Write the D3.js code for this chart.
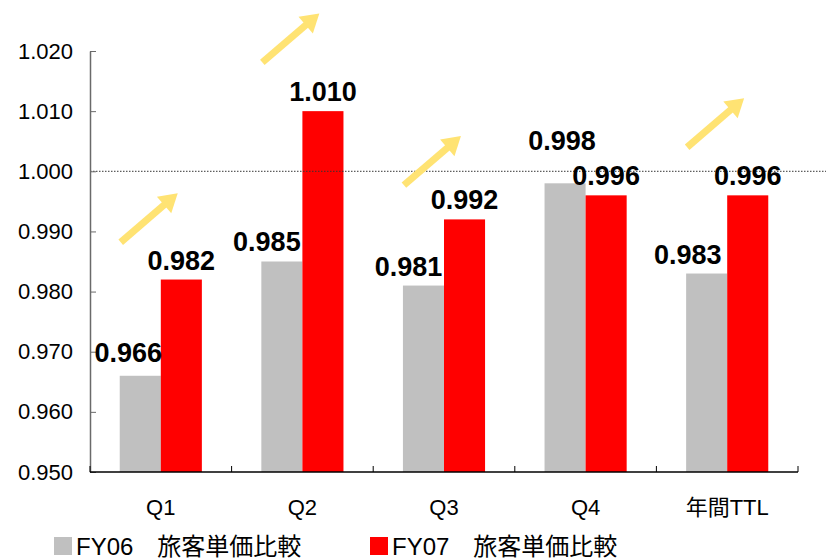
<!DOCTYPE html>
<html>
<head>
<meta charset="utf-8">
<script src="https://cdn.jsdelivr.net/npm/d3@7"></script>
<style>
  html, body { margin: 0; padding: 0; background: #fff; }
  svg { display: block; font-family: "Liberation Sans", Arial, sans-serif; }
</style>
</head>
<body>
<svg id="chart" width="830" height="560"></svg>
<script>
// Quarterly passenger unit-price ratios, FY06 vs FY07
const categories = ["Q1", "Q2", "Q3", "Q4", "年間TTL"];
const fy06 = [0.966, 0.985, 0.981, 0.998, 0.983];
const fy07 = [0.982, 1.010, 0.992, 0.996, 0.996];
const seriesNames = ["FY06\u3000旅客単価比較", "FY07\u3000旅客単価比較"];
const yTicks = [0.950, 0.960, 0.970, 0.980, 0.990, 1.000, 1.010, 1.020];
const baseline = 1.000;
// Upward trend arrows: category and the value level at the arrow tail
const arrowCats = ["Q1", "Q2", "Q3", "年間TTL"];
const arrowTail = [0.9882, 1.0181, 0.9977, 1.0040];

const colors = ["#c0c0c0", "#ff0000"];
const arrowColor = "#ffe373";

const svg = d3.select("#chart");
const plotLeft = 90, plotRight = 798, plotTop = 51, plotBottom = 472;

const y = d3.scaleLinear().domain([0.950, 1.020]).range([plotBottom, plotTop]);
const x = d3.scaleBand().domain(categories).range([plotLeft, plotRight])
  .paddingInner(0.42).paddingOuter(0.21);
const xs = d3.scaleBand().domain([0, 1]).range([0, x.bandwidth()]);

// Bars
const series = [fy06, fy07];
series.forEach((vals, si) => {
  svg.append("g").selectAll("rect")
    .data(vals)
    .join("rect")
    .attr("x", (d, i) => x(categories[i]) + xs(si))
    .attr("y", d => y(d))
    .attr("width", xs.bandwidth())
    .attr("height", d => plotBottom - y(d))
    .attr("fill", colors[si]);
});

// Reference line at 1.000
svg.append("line")
  .attr("x1", plotLeft).attr("x2", 826)
  .attr("y1", y(baseline)).attr("y2", y(baseline))
  .attr("stroke", "#333").attr("stroke-width", 1)
  .attr("stroke-dasharray", "1.5,1.5");

// Y axis (ticks point inward)
const yAxis = d3.axisLeft(y).tickValues(yTicks).tickFormat(d3.format(".3f"))
  .tickSizeInner(-6).tickSizeOuter(0).tickPadding(17);
const gy = svg.append("g").attr("transform", `translate(${plotLeft},0)`).call(yAxis);
gy.select(".domain").attr("stroke", "#6a6a6a").attr("stroke-width", 1.5);
gy.selectAll(".tick line").attr("stroke", "#6a6a6a");
gy.selectAll("text").attr("font-size", 22).attr("fill", "#000")
  .attr("font-family", "'Liberation Sans', Arial, sans-serif");

// X axis: separator ticks between categories
svg.append("line").attr("x1", plotLeft).attr("x2", plotRight)
  .attr("y1", plotBottom).attr("y2", plotBottom).attr("stroke", "#000").attr("stroke-width", 1.5);
const seps = categories.map(c => x(c) - x.step() * x.paddingOuter()).concat([plotRight]);
svg.append("g").selectAll("line").data(seps).join("line")
  .attr("x1", d => d).attr("x2", d => d)
  .attr("y1", plotBottom).attr("y2", plotBottom - 6)
  .attr("stroke", "#000");
svg.append("g").selectAll("text").data(categories).join("text")
  .attr("x", d => x(d) + x.bandwidth() / 2)
  .attr("y", 515)
  .attr("text-anchor", "middle")
  .attr("font-size", 22)
  .attr("font-family", "'Liberation Sans', 'Noto Sans CJK JP', sans-serif")
  .text(d => d);

// Value labels
const fmt = d3.format(".3f");
const labelShift06 = [-12, -15, -15, -3, -19];  // horizontal nudge for FY06 labels
const labelLift06 = [14, 11, 10, 33, 10];       // distance above bar top
series.forEach((vals, si) => {
  svg.append("g").selectAll("text")
    .data(vals)
    .join("text")
    .attr("x", (d, i) => x(categories[i]) + xs(si) + xs.bandwidth() / 2 + (si === 0 ? labelShift06[i] : 0))
    .attr("y", (d, i) => y(d) - (si === 0 ? labelLift06[i] : 10))
    .attr("text-anchor", "middle")
    .attr("font-size", 27)
    .attr("font-weight", "bold")
    .attr("fill", "#000")
    .text(d => fmt(d));
});

// Trend arrows
const dx = 57, dy = -49;
const ag = svg.append("g");
arrowCats.forEach((c, i) => {
  const x0 = x(c) + 1, y0 = y(arrowTail[i]);
  const len = Math.hypot(dx, dy);
  const ux = dx / len, uy = dy / len;
  const headL = 18, headW = 11;
  const x1 = x0 + dx, y1 = y0 + dy;
  const bx = x1 - ux * headL, by = y1 - uy * headL;
  ag.append("line")
    .attr("x1", x0).attr("y1", y0).attr("x2", bx + ux * 2).attr("y2", by + uy * 2)
    .attr("stroke", arrowColor).attr("stroke-width", 7);
  ag.append("path")
    .attr("d", `M${x1},${y1} L${bx - uy * headW},${by + ux * headW} L${bx + uy * headW},${by - ux * headW} Z`)
    .attr("fill", arrowColor);
});

// Legend
const legendX = [54, 370];
seriesNames.forEach((name, i) => {
  const g = svg.append("g").attr("transform", `translate(${legendX[i]},537)`);
  g.append("rect").attr("width", 18).attr("height", 18).attr("fill", colors[i]);
  g.append("text").attr("x", 22).attr("y", 18)
    .attr("font-size", 24)
    .attr("font-family", "'Liberation Sans', 'Noto Sans CJK JP', sans-serif")
    .text(name);
});
</script>
</body>
</html>
